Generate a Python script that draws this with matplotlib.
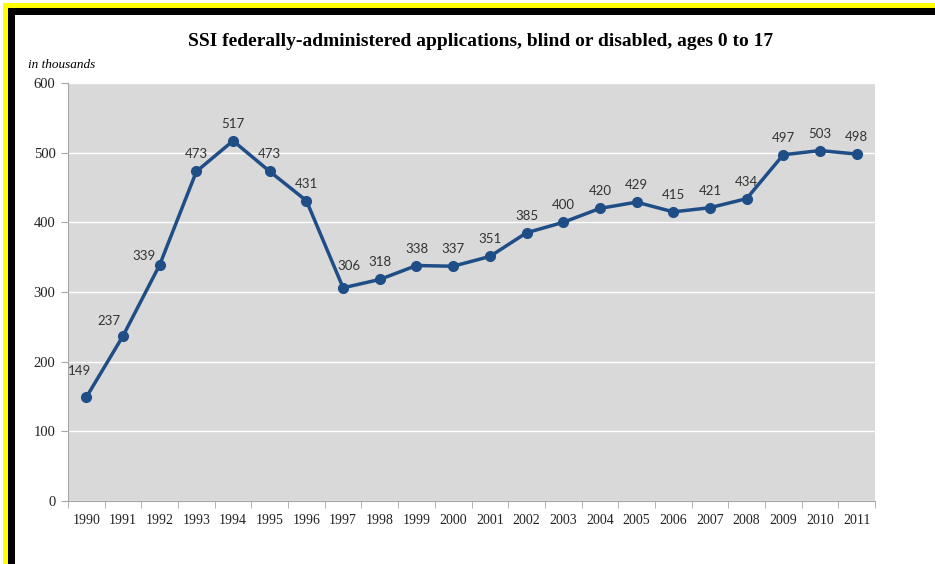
import numpy as np
from matplotlib import pyplot as plt
from matplotlib.patches import Rectangle

years = [str(y) for y in range(1990, 2012)]
applications = [149, 237, 339, 473, 517, 473, 431, 306, 318, 338, 337,
                351, 385, 400, 420, 429, 415, 421, 434, 497, 503, 498]
y_ticks = [0, 100, 200, 300, 400, 500, 600]

W, H = 935, 564
fig = plt.figure(figsize=(W / 100, H / 100), dpi=100)
fig.patch.set_facecolor('white')

# frame in the top-left corner (yellow then black)
def px_rect(x0, y0, x1, y1, color):
	fig.patches.append(Rectangle((x0 / W, 1 - y1 / H), (x1 - x0) / W, (y1 - y0) / H,
		transform=fig.transFigure, facecolor=color, edgecolor='none', zorder=0))
px_rect(3, 3, W, 8, '#ffff00')
px_rect(3, 3, 8, H, '#ffff00')
px_rect(8, 8, W, 15, '#000000')
px_rect(8, 8, 15, H, '#000000')

serif = ['Liberation Serif', 'DejaVu Serif']
sans = ['Lato', 'DejaVu Sans']
ax = fig.add_axes([68 / W, 1 - 501 / H, (875 - 68) / W, (501 - 83) / H])
ax.set_facecolor('#d9d9d9')
x = np.arange(len(years))
ax.set_xlim(-0.5, len(years) - 0.5)
ax.set_ylim(0, 600)
ax.set_yticks(y_ticks)
ax.yaxis.grid(True, color='white', linewidth=1.0)
ax.set_axisbelow(True)
for s in ['top', 'right']:
	ax.spines[s].set_visible(False)
for s in ['left', 'bottom']:
	ax.spines[s].set_color('#a6a6a6')
ax.set_xticks(x)
ax.set_xticklabels(years, family=serif, fontsize=10, color='#222222')
ax.set_xticks(np.arange(-0.5, len(years)), minor=True)
ax.tick_params(axis='x', which='major', length=0, pad=9)
ax.tick_params(axis='x', which='minor', length=5, color='#a6a6a6')
ax.tick_params(axis='y', length=5, color='#a6a6a6', pad=4)
for lab in ax.get_yticklabels():
	lab.set_family(serif)
	lab.set_fontsize(10.5)
	lab.set_color('#222222')

ax.plot(x, applications, color='#1f4e87', linewidth=2.5, marker='o',
	markersize=7, zorder=3)

# label placement (pixels from the point), most sit straight above
label_shift = {0: (-7, 26), 1: (-14, 15), 2: (-16, 9), 7: (6, 22)}
for i, v in enumerate(applications):
	dx, dy = label_shift.get(i, (0, 17))
	ax.annotate(str(v), (x[i], v), xytext=(dx, dy), textcoords='offset pixels',
		ha='center', va='center', family=sans, fontsize=9.5, color='#333333')

fig.text(481 / W, 1 - 41 / H, 'SSI federally-administered applications, blind or disabled, ages 0 to 17',
	ha='center', va='center', family=serif, fontsize=14, fontweight='bold')
fig.text(28 / W, 1 - 65 / H, 'in thousands', ha='left', va='center',
	family=serif, fontsize=9.5, style='italic')

fig.savefig('out.png', dpi=100)
